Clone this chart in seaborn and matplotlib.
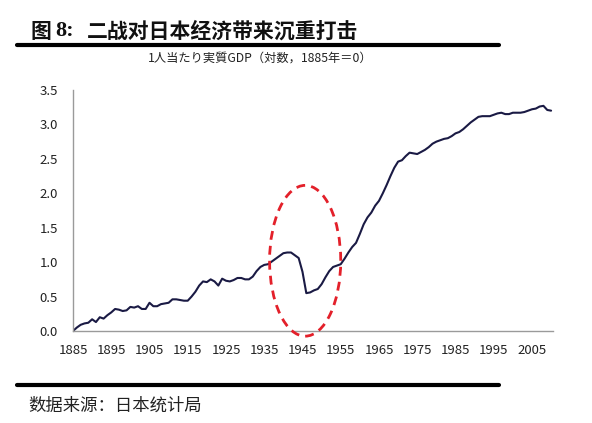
import numpy as np
import pandas as pd
import matplotlib
matplotlib.use("Agg")
import matplotlib.pyplot as plt
from matplotlib.patches import Ellipse
from matplotlib.lines import Line2D
import seaborn as sns

years = list(range(1885, 2011))
gdp = [
    0.00, 0.05, 0.09, 0.11, 0.12, 0.17, 0.13, 0.20, 0.18, 0.23,   # 1885-1894
    0.27, 0.32, 0.31, 0.29, 0.30, 0.35, 0.34, 0.36, 0.32, 0.32,   # 1895-1904
    0.41, 0.36, 0.36, 0.39, 0.40, 0.41, 0.46, 0.46, 0.45, 0.44,   # 1905-1914
    0.44, 0.50, 0.57, 0.66, 0.72, 0.71, 0.75, 0.72, 0.66, 0.76,   # 1915-1924
    0.73, 0.72, 0.74, 0.77, 0.77, 0.75, 0.75, 0.79, 0.87, 0.93,   # 1925-1934
    0.96, 0.97, 1.01, 1.05, 1.09, 1.13, 1.14, 1.14, 1.10, 1.06,   # 1935-1944
    0.86, 0.55, 0.56, 0.59, 0.61, 0.68, 0.78, 0.87, 0.93, 0.95,   # 1945-1954
    0.97, 1.05, 1.14, 1.22, 1.28, 1.41, 1.55, 1.65, 1.72, 1.82,   # 1955-1964
    1.89, 2.00, 2.12, 2.25, 2.37, 2.46, 2.48, 2.54, 2.59, 2.58,   # 1965-1974
    2.57, 2.60, 2.63, 2.67, 2.72, 2.75, 2.77, 2.79, 2.80, 2.83,   # 1975-1984
    2.87, 2.89, 2.93, 2.98, 3.03, 3.07, 3.11, 3.12, 3.12, 3.12,   # 1985-1994
    3.14, 3.16, 3.17, 3.15, 3.15, 3.17, 3.17, 3.17, 3.18, 3.20,   # 1995-2004
    3.22, 3.23, 3.26, 3.27, 3.21, 3.20,                           # 2005-2010
]
x_ticks = list(range(1885, 2006, 10))
y_ticks = [0.0, 0.5, 1.0, 1.5, 2.0, 2.5, 3.0, 3.5]

title_prefix = "图"
title_num = "8:"
title_body = "二战对日本经济带来沉重打击"
subtitle_text = "1人当たり実質GDP（対数，1885年＝0）"
source_text = "数据来源：日本统计局"

df = pd.DataFrame({"year": years, "gdp": gdp})

sns.set_style("white")
plt.rcParams["font.family"] = ["Noto Sans CJK JP", "DejaVu Sans"]

fig = plt.figure(figsize=(5.92, 4.23), dpi=100)
ax = fig.add_axes([73 / 592, 1 - 331 / 423, (553 - 73) / 592, (331 - 90) / 423])

sns.lineplot(data=df, x="year", y="gdp", ax=ax, color="#1a1a44", linewidth=1.5)

ax.set_xlim(1885, 2010.5)
ax.set_ylim(0, 3.5)
ax.set_xticks(x_ticks)
ax.set_xticklabels([str(t) for t in x_ticks])
ax.set_yticks(y_ticks)
ax.set_yticklabels([f"{t:.1f}" for t in y_ticks])
ax.set_xlabel("")
ax.set_ylabel("")
for s in ["top", "right"]:
    ax.spines[s].set_visible(False)
for s in ["left", "bottom"]:
    ax.spines[s].set_color("#9a9a9a")
    ax.spines[s].set_linewidth(1.0)
ax.tick_params(axis="x", direction="in", length=4, color="#9a9a9a",
               labelsize=9.5, pad=9, labelcolor="#222222")
ax.tick_params(axis="y", direction="out", length=3, color="#9a9a9a",
               labelsize=9.5, pad=8, labelcolor="#222222")
ax.grid(False)

ell = Ellipse((1945.7, 1.02), width=18.6, height=2.19, fill=False,
              edgecolor="#e3202a", linestyle=(0, (3.2, 2.2)), linewidth=2.0,
              clip_on=False, zorder=5)
ax.add_patch(ell)

# Title and rules
ty = 1 - 31 / 423
fig.text(30 / 592, ty, title_prefix, fontsize=15, fontweight="bold",
         family=["Noto Sans CJK SC", "DejaVu Sans"], va="center", ha="left",
         color="#111111")
fig.text(55 / 592, ty, title_num, fontsize=16, fontweight="bold",
         family=["Liberation Serif", "DejaVu Serif"], va="center", ha="left",
         color="#111111")
fig.text(87 / 592, ty, title_body, fontsize=15, fontweight="bold",
         family=["Noto Sans CJK SC", "DejaVu Sans"], va="center", ha="left",
         color="#111111")
fig.add_artist(Line2D([17 / 592, 499 / 592], [1 - 45 / 423, 1 - 45 / 423],
                      color="black", linewidth=3.0, transform=fig.transFigure))
fig.text(260 / 592, 1 - 58 / 423, subtitle_text, fontsize=8.8, va="center",
         ha="center", color="#222222",
         family=["Noto Sans CJK JP", "DejaVu Sans"])
fig.add_artist(Line2D([17 / 592, 499 / 592], [1 - 385 / 423, 1 - 385 / 423],
                      color="black", linewidth=3.0, transform=fig.transFigure))
fig.text(28 / 592, 1 - 406 / 423, source_text, fontsize=12.5, va="center",
         ha="left", color="#222222",
         family=["Noto Sans CJK SC", "DejaVu Sans"])

fig.savefig("out.png", dpi=100)
